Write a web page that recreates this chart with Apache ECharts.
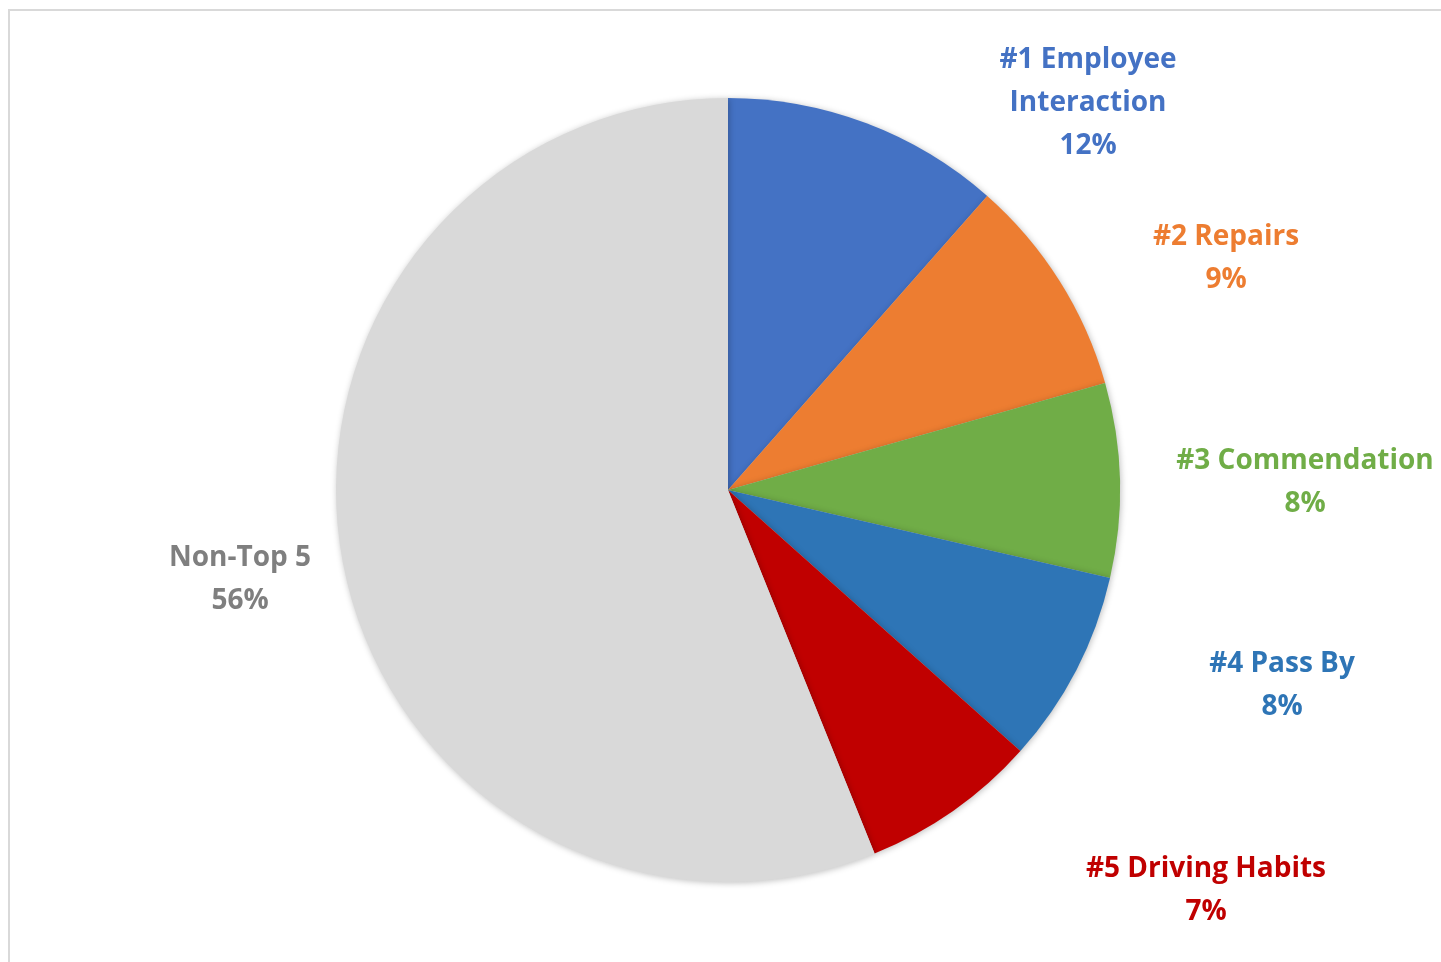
<!DOCTYPE html>
<html><head><meta charset="utf-8">
<script src="https://cdn.jsdelivr.net/npm/echarts@6/dist/echarts.min.js"></script>
<style>
html,body{margin:0;padding:0;background:#fff;}
#frame{position:absolute;left:8px;top:9px;width:1440px;height:960px;border-top:2px solid #d9d9d9;border-left:2px solid #d9d9d9;}
#chart{position:absolute;left:0;top:0;width:1441px;height:962px;}
</style></head>
<body>
<div id="frame"></div>
<div id="chart"></div>
<script>
const categories = ['#1 Employee\nInteraction', '#2 Repairs', '#3 Commendation', '#4 Pass By', '#5 Driving Habits', 'Non-Top 5'];
const values = [11.5, 9.1, 8.0, 8.0, 7.3, 56.1];
const percentLabels = ['12%', '9%', '8%', '8%', '7%', '56%'];
const sliceColors = ['#4472C4', '#ED7D31', '#70AD47', '#2E75B6', '#C00000', '#D9D9D9'];
const labelColors = ['#4472C4', '#ED7D31', '#70AD47', '#2E75B6', '#C00000', '#7F7F7F'];
// label anchor (centre of text block), like Excel's manual label placement
const labelAnchors = [[1088, 103], [1226, 259], [1305, 483], [1282, 686], [1206, 891], [240, 580]];

const chart = echarts.init(document.getElementById('chart'), null, {renderer: 'canvas'});
chart.setOption({
  animation: false,
  series: [{
    type: 'pie',
    center: [728, 490],
    radius: 392,
    startAngle: 90,
    clockwise: true,
    data: categories.map((c, i) => ({
      name: c, value: values[i],
      itemStyle: {color: sliceColors[i]},
      label: {color: labelColors[i]}
    })),
    itemStyle: {borderColor: '#fff', borderWidth: 0, shadowBlur: 6, shadowColor: 'rgba(0,0,0,0.25)', shadowOffsetX: 1, shadowOffsetY: 1},
    label: {
      show: true,
      position: 'outside',
      fontFamily: 'Open Sans',
      fontWeight: 'bold',
      fontSize: 28,
      lineHeight: 43,
      align: 'center',
      overflow: 'none',
      formatter: p => p.name + '\n' + percentLabels[p.dataIndex]
    },
    labelLine: {show: false},
    labelLayout: p => ({
      x: labelAnchors[p.dataIndex][0],
      y: labelAnchors[p.dataIndex][1],
      align: 'center',
      verticalAlign: 'middle'
    }),
    emphasis: {disabled: true}
  }]
});
</script>
</body></html>
